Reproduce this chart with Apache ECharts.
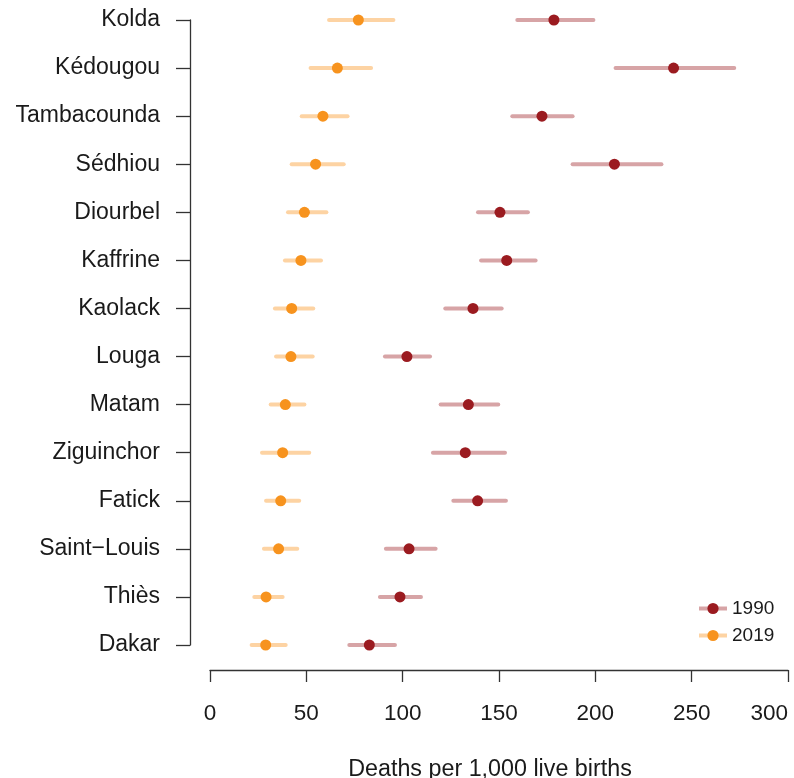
<!DOCTYPE html>
<html>
<head>
<meta charset="utf-8">
<script src="https://cdn.jsdelivr.net/npm/echarts@6/dist/echarts.min.js"></script>
<style>
  html, body { margin: 0; padding: 0; background: #fff; }
  #chart { width: 794px; height: 778px; }
</style>
</head>
<body>
<div id="chart"></div>
<script>
  // regions, top to bottom
  var regions = ['Kolda', 'Kédougou', 'Tambacounda', 'Sédhiou', 'Diourbel', 'Kaffrine', 'Kaolack',
    'Louga', 'Matam', 'Ziguinchor', 'Fatick', 'Saint\u2212Louis', 'Thiès', 'Dakar'];

  // 1990 estimate and uncertainty interval
  var rate1990 = [178.5, 240.6, 172.3, 209.9, 150.5, 154.0, 136.5, 102.2, 134.1, 132.5, 138.9, 103.3, 98.6, 82.7];
  var low1990  = [159.5, 210.5, 156.9, 188.2, 139.1, 140.7, 122.1, 90.8, 119.7, 115.7, 126.3, 91.3, 88.2, 72.3];
  var high1990 = [199.0, 272.1, 188.2, 234.3, 165.0, 169.0, 151.4, 114.2, 149.6, 153.1, 153.6, 117.1, 109.5, 96.0];

  // 2019 estimate and uncertainty interval
  var rate2019 = [77.0, 66.1, 58.6, 54.8, 49.0, 47.2, 42.4, 42.0, 39.1, 37.7, 36.7, 35.6, 29.1, 28.9];
  var low2019  = [61.8, 52.2, 47.6, 42.4, 40.5, 38.9, 33.7, 34.3, 31.5, 27.0, 29.1, 28.0, 23.0, 21.6];
  var high2019 = [95.2, 83.6, 71.4, 69.4, 60.4, 57.6, 53.6, 53.3, 49.0, 51.5, 46.3, 45.3, 37.7, 39.3];

  var xTicks = [0, 50, 100, 150, 200, 250, 300];

  var red = '#9b1b20', redLight = '#d7a4a6';
  var orange = '#f7931e', orangeLight = '#fdd3a3';
  var font = '"Liberation Sans", Arial, sans-serif';

  function intervals(lo, hi) {
    return lo.map(function (v, i) { return [v, hi[i], i]; });
  }
  function points(vals) {
    return vals.map(function (v, i) { return [v, regions[i]]; });
  }
  function barRenderer(color) {
    return function (params, api) {
      var s = api.coord([api.value(0), api.value(2)]);
      var e = api.coord([api.value(1), api.value(2)]);
      return {
        type: 'line',
        shape: { x1: s[0], y1: s[1], x2: e[0], y2: e[1] },
        style: { stroke: color, lineWidth: 4, lineCap: 'round' }
      };
    };
  }

  var chart = echarts.init(document.getElementById('chart'));
  chart.setOption({
    animation: false,
    textStyle: { fontFamily: font, color: '#1a1a1a' },
    grid: { left: 210, right: 6, top: 20, bottom: 133, outerBoundsMode: 'none', containLabel: false },
    title: {
      text: 'Deaths per 1,000 live births',
      left: 485, top: 753, textAlign: 'center',
      textStyle: { fontFamily: font, fontSize: 23.3, fontWeight: 'normal', color: '#1a1a1a' }
    },
    legend: {
      orient: 'vertical',
      left: 692, top: 594,
      itemWidth: 28, itemHeight: 14, itemGap: 8,
      textStyle: { fontFamily: font, fontSize: 19, color: '#1a1a1a' },
      data: [
        { name: '1990', lineStyle: { color: redLight, width: 4, opacity: 1 } },
        { name: '2019', lineStyle: { color: orangeLight, width: 4, opacity: 1 } }
      ]
    },
    xAxis: {
      type: 'value', min: xTicks[0], max: xTicks[xTicks.length - 1], interval: 50,
      offset: 25,
      axisLine: { show: true, onZero: false, lineStyle: { color: '#333', width: 1.3 } },
      axisTick: { show: true, length: 12, lineStyle: { color: '#333', width: 1.3 } },
      axisLabel: { fontSize: 22.5, margin: 32, color: '#1a1a1a', fontFamily: font, alignMaxLabel: 'right' },
      splitLine: { show: false }
    },
    yAxis: {
      type: 'category', data: regions, inverse: true, boundaryGap: false,
      offset: 20,
      axisLine: { show: true, onZero: false, lineStyle: { color: '#333', width: 1.3 } },
      axisTick: { show: true, length: 14, lineStyle: { color: '#333', width: 1.3 } },
      axisLabel: { fontSize: 23, margin: 30, color: '#1a1a1a', fontFamily: font },
      splitLine: { show: false }
    },
    series: [
      {
        name: '1990 interval', type: 'custom', renderItem: barRenderer(redLight),
        encode: { x: [0, 1], y: 2 }, data: intervals(low1990, high1990), z: 1
      },
      {
        name: '2019 interval', type: 'custom', renderItem: barRenderer(orangeLight),
        encode: { x: [0, 1], y: 2 }, data: intervals(low2019, high2019), z: 1
      },
      {
        name: '1990', type: 'line', data: points(rate1990),
        symbol: 'circle', symbolSize: 11, showSymbol: true,
        itemStyle: { color: red },
        lineStyle: { width: 0, opacity: 0 }, z: 3
      },
      {
        name: '2019', type: 'line', data: points(rate2019),
        symbol: 'circle', symbolSize: 11, showSymbol: true,
        itemStyle: { color: orange },
        lineStyle: { width: 0, opacity: 0 }, z: 3
      }
    ]
  });
</script>
</body>
</html>
